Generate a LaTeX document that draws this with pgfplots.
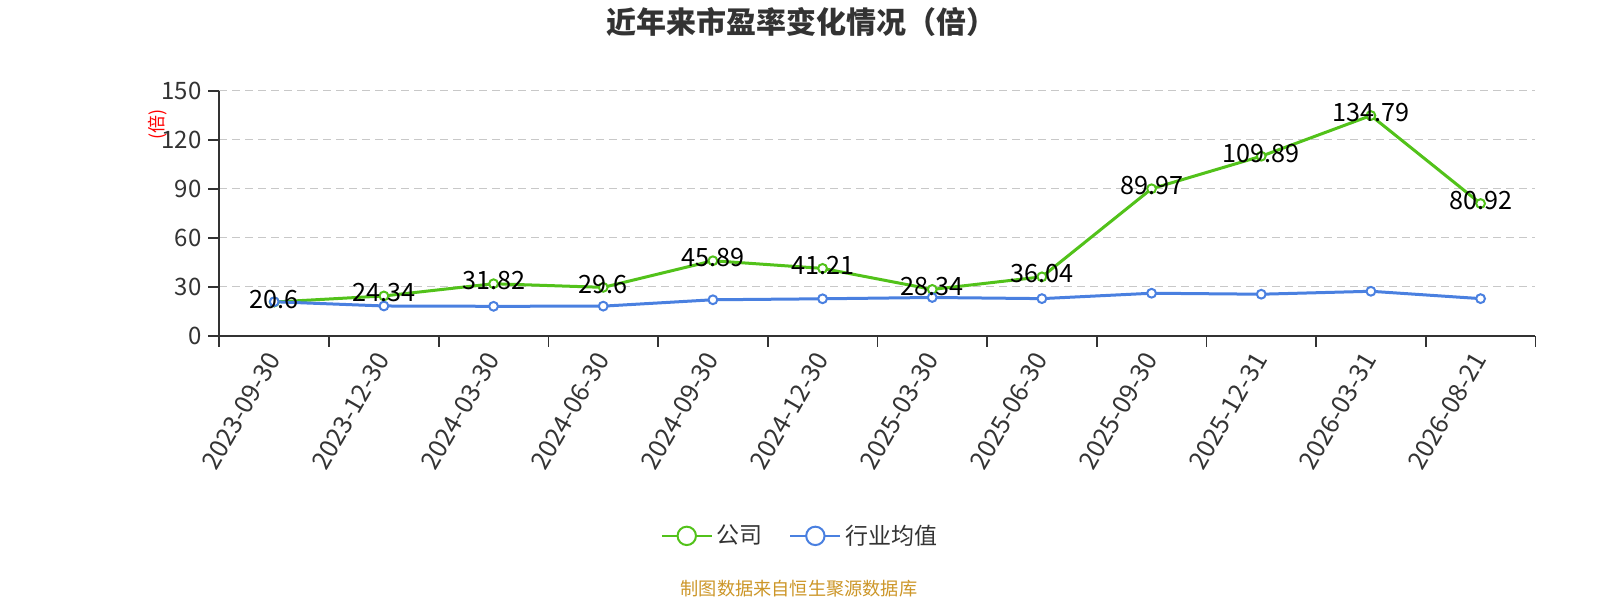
\documentclass[border=0pt]{standalone}
\usepackage{fontspec}
\setmainfont{Noto Sans CJK SC}
\usepackage{pgfplots}
\pgfplotsset{compat=1.18}
\definecolor{cgreen}{RGB}{82,194,26}
\definecolor{cblue}{RGB}{74,128,224}
\definecolor{ctext}{RGB}{51,51,51}
\definecolor{cgold}{RGB}{204,150,40}
\definecolor{cgrid}{RGB}{200,200,200}
\begin{document}
\begin{tikzpicture}
\path[use as bounding box] (-109.7pt,-132.15pt) rectangle (690.3pt,167.85pt);
\begin{axis}[
  at={(0pt,0pt)}, anchor=south west,
  scale only axis, width=658pt, height=122.5pt,
  xmin=-0.5, xmax=11.5, ymin=0, ymax=150,
  ytick={0,30,60,90,120,150},
  xtick={-0.5,0.5,...,11.5}, xticklabels={},
  extra x ticks={0,1,2,3,4,5,6,7,8,9,10,11},
  extra x tick labels={2023-09-30,2023-12-30,2024-03-30,2024-06-30,2024-09-30,2024-12-30,2025-03-30,2025-06-30,2025-09-30,2025-12-31,2026-03-31,2026-08-21},
  extra x tick style={major tick length=0pt, tick label style={rotate=60, anchor=east, font=\fontsize{12.6}{14}\selectfont, text=ctext, xshift=-5pt, yshift=-4.5pt}},
  axis lines*=left,
  axis line style={ctext, line width=0.9pt},
  tick style={ctext, line width=0.9pt},
  tick align=outside, major tick length=5.5pt,
  ymajorgrids, grid style={cgrid, dash pattern=on 4pt off 2.5pt, line width=0.7pt},
  yticklabel style={font=\fontsize{12}{14}\selectfont, text=ctext},
  /pgf/number format/assume math mode=true,
  clip=false,
  legend style={at={(0.442,-0.817)}, anchor=center, draw=none, fill=none, legend columns=2,
    font=\fontsize{11.5}{13}\selectfont, text=ctext,
    /tikz/every even column/.append style={column sep=11.5pt}},
  legend image code/.code={
    \draw[#1, mark=none, line width=0.8pt] (0pt,0pt) -- (25pt,0pt);
    \draw[#1, mark=none, line width=1pt, fill=white] (12.5pt,0pt) circle (4.6pt);
  },
]
\addplot[cgreen, line width=1.5pt, mark=*, mark size=2.2pt, mark options={fill=white, line width=1pt}] coordinates {
(0,20.6) (1,24.34) (2,31.82) (3,29.6) (4,45.89) (5,41.21) (6,28.34) (7,36.04) (8,89.97) (9,109.89) (10,134.79) (11,80.92)};
\addlegendentry{公司}
\addplot[cblue, line width=1.5pt, mark=*, mark size=2.2pt, mark options={fill=white, line width=1pt}] coordinates {
(0,20.8) (1,18.2) (2,18.0) (3,18.1) (4,22.0) (5,22.6) (6,23.4) (7,22.7) (8,26.0) (9,25.4) (10,27.2) (11,22.7)};
\addlegendentry{行业均值}
\addplot[draw=none, mark=none, forget plot, point meta=explicit symbolic,
  nodes near coords, nodes near coords align={center},
  every node near coord/.append style={font=\fontsize{12.6}{14}\selectfont, text=black, yshift=1.5pt, inner sep=0pt}] coordinates {
(0,20.6) [20.6] (1,24.34) [24.34] (2,31.82) [31.82] (3,29.6) [29.6] (4,45.89) [45.89] (5,41.21) [41.21] (6,28.34) [28.34] (7,36.04) [36.04] (8,89.97) [89.97] (9,109.89) [109.89] (10,134.79) [134.79] (11,80.92) [80.92]};
\end{axis}
\node[font=\bfseries\fontsize{15}{17}\selectfont, text=ctext] at (291pt,156.6pt) {近年来市盈率变化情况（倍）};
\node[font=\fontsize{9}{11}\selectfont, text=red, rotate=90] at (-31pt,105.6pt) {(倍)};
\node[font=\fontsize{9.1}{11}\selectfont, text=cgold] at (289.8pt,-126.5pt) {制图数据来自恒生聚源数据库};
\end{tikzpicture}
\end{document}
